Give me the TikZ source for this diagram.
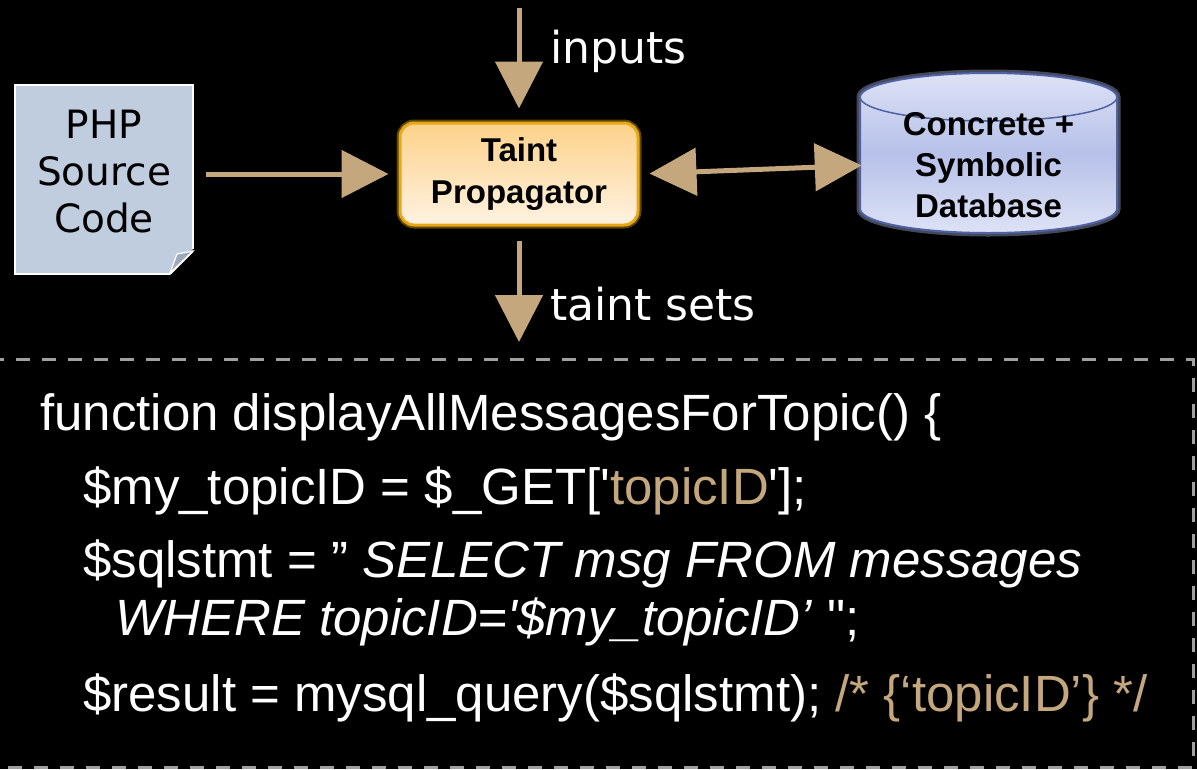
\documentclass[tikz,border=0pt]{standalone}
\usepackage{fontspec}
\setmainfont{DejaVu Sans}
\newfontfamily\codefont[Ligatures=TeXOff]{Liberation Sans}
\newfontfamily\boxfont{Liberation Sans}
\usetikzlibrary{arrows.meta,positioning}
\definecolor{flowtan}{HTML}{C4A77D}
\definecolor{phpblue}{HTML}{C0CDDF}
\definecolor{phpfold}{HTML}{9DAABD}
\definecolor{taintedge}{HTML}{E6A814}
\definecolor{tainttop}{HTML}{FCD28A}
\definecolor{taintbot}{HTML}{FFF2E2}
\definecolor{dbedge}{HTML}{5062A4}
\definecolor{dbtop}{HTML}{DDE2F5}
\definecolor{dbmid}{HTML}{B7C1E9}
\definecolor{dashgray}{HTML}{A0A0A0}

\begin{document}
\begin{tikzpicture}[
    x=1pt, y=1pt,
    flow/.style={line width=5pt, flowtan, -{Triangle[length=47pt,width=47pt]}},
    flowlabel/.style={anchor=base west, inner sep=0pt, text=white, font=\fontsize{44}{52}\selectfont},
    phpbox/.style={fill=phpblue, draw=white, line width=2pt, minimum width=178pt, minimum height=189pt, inner sep=0pt},
    phptext/.style={align=center, inner sep=0pt, font=\fontsize{39}{47}\selectfont},
    taintbox/.style={rounded corners=14pt, top color=tainttop, bottom color=taintbot, draw=taintedge, line width=3pt,
        preaction={draw=taintedge!75!black, line width=7pt, opacity=.55},
        minimum width=238pt, minimum height=102pt, align=center, inner sep=0pt,
        font=\boxfont\bfseries\fontsize{33}{42}\selectfont},
    dbtext/.style={align=center, inner sep=0pt, minimum width=257pt,
        font=\boxfont\bfseries\fontsize{33}{41}\selectfont},
    codeline/.style={anchor=base west, inner sep=0pt, text=white, font=\codefont\fontsize{51}{60}\selectfont}
]
% Background
\useasboundingbox (0,0) rectangle (1197,-769);
\fill[black] (0,0) rectangle (1197,-769);

% PHP source file with folded corner
\node[phpbox] (php) at (104,-179.5) {};
\fill[black] (193,-249) -- (195,-249) -- (195,-276) -- (169,-276) -- cycle;
\draw[white, line width=2pt] (170,-274) -- (193,-251);
\filldraw[fill=phpfold, draw=white, line width=1.2pt] (170,-273) -- (177,-254) -- (193,-251) -- cycle;
\node[phptext] (phplabel) at (104,-171.5) {PHP\\Source\\Code};

% Taint propagator
\node[taintbox] (taint) at (519,-174) {Taint\\Propagator};

% Concrete + symbolic database (cylinder)
\filldraw[draw=dbedge!60, line width=7pt, opacity=.45, fill=none]
    (860,-97) -- (860,-209) arc (180:360:128.5 and 24) -- (1117,-97) arc (0:180:128.5 and 24) -- cycle;
\shade[top color=dbtop, bottom color=dbtop, middle color=dbmid]
    (860,-97) -- (860,-209) arc (180:360:128.5 and 24) -- (1117,-97) arc (0:180:128.5 and 24) -- cycle;
\draw[dbedge, line width=2pt]
    (860,-97) -- (860,-209) arc (180:360:128.5 and 24) -- (1117,-97) arc (0:180:128.5 and 24) -- cycle;
\draw[dbedge, line width=1.5pt] (860,-97) arc (180:360:128.5 and 24);
\node[dbtext] (db) at (988.5,-165.5) {Concrete +\\Symbolic\\Database};

% Flows
\coordinate (inputs) at (519,-8);
\coordinate (sets) at (519,-342);
\draw[flow, shorten >=13pt] (inputs) -- (taint.north);
\node[flowlabel] (inlabel) at (550,-63) {inputs};
\draw[flow, shorten <=12pt, shorten >=10pt] (php.east |- taint.west) -- (taint.west);
\draw[flow, {Triangle[length=47pt,width=47pt]}-{Triangle[length=47pt,width=47pt]}, shorten <=10pt, shorten >=-2pt] (taint.east) -- (db.west);
\draw[flow, shorten <=14pt] (taint.south) -- (sets);
\node[flowlabel] (setlabel) at (550,-320) {taint sets};

% Code excerpt
\draw[dashgray, line width=3pt, dash pattern=on 14pt off 12pt] (-10,-359) -- (1193,-359) -- (1193,-767) -- (-10,-767);
\node[codeline] (fnline) at (40,-430) {function displayAllMessagesForTopic() \{};
\node[codeline] (getline) at (83,-504) {\$my\_topicID = \$\_GET['{\color{flowtan}topicID}'];};
\node[codeline] (sqlline) at (83,-577) {\$sqlstmt = ” \textit{SELECT msg FROM messages}};
\node[codeline] (whereline) at (115,-635) {\textit{WHERE topicID='\$my\_topicID’} ";};
\node[codeline] (queryline) at (83,-711) {\$result = mysql\_query(\$sqlstmt); {\color{flowtan}/* \{‘topicID’\} */}};

\end{tikzpicture}
\end{document}
